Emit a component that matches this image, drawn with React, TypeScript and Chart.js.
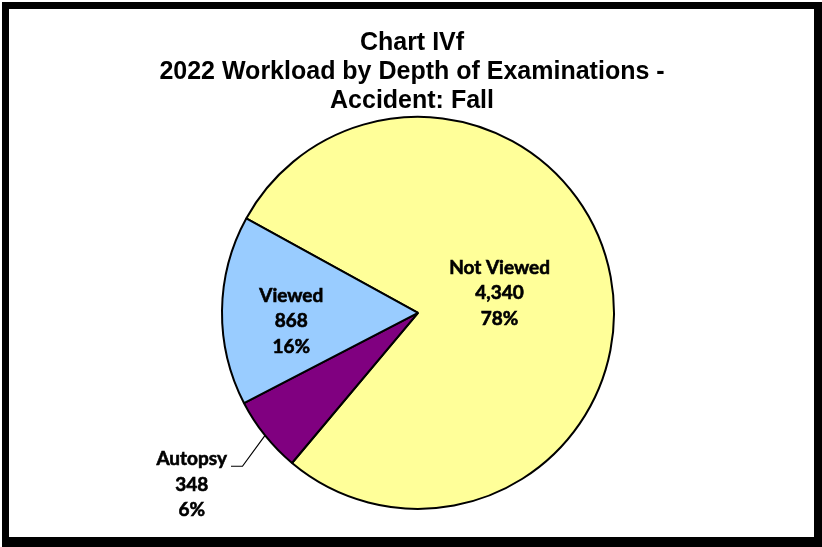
import React, { useEffect, useRef } from "react";
import { Chart, registerables } from "chart.js";

Chart.register(...registerables);

// ---- data ----
const TITLE_LINES = ["Chart IVf", "2022 Workload by Depth of Examinations -", "Accident: Fall"];
const CATEGORIES = ["Not Viewed", "Autopsy", "Viewed"];
const VALUES = [4340, 348, 868];
const COLORS = ["#FFFF99", "#800080", "#99CCFF"];

// ---- label placement (fraction of radius, angle offset from slice mid-angle in degrees) ----
const LABEL_PLACEMENT = [
  { r: 0.428, da: -2.9, leader: false },
  { r: 1.45, da: 1.5, leader: true },
  { r: 0.648, da: -4.45, leader: false },
];
const LABEL_FONT = "bold 19px Lato, 'Noto Sans', sans-serif";
const LINE_GAP = 25.5;

const framePlugin = {
  id: "frame",
  beforeDraw(chart: any) {
    const { ctx, width, height } = chart;
    ctx.save();
    ctx.fillStyle = "#000";
    ctx.fillRect(2, 2, width - 2, height - 2);
    ctx.fillStyle = "#fff";
    ctx.fillRect(9, 9, width - 17, height - 19);
    ctx.restore();
  },
};

const shiftPlugin = {
  id: "shiftArea",
  afterLayout(chart: any) {
    chart.chartArea.left += 6;
    chart.chartArea.right += 6;
  },
};

const labelPlugin = {
  id: "sliceLabels",
  afterDatasetsDraw(chart: any) {
    const { ctx } = chart;
    const meta = chart.getDatasetMeta(0);
    const total = VALUES.reduce((a, b) => a + b, 0);
    ctx.save();
    ctx.font = LABEL_FONT;
    ctx.fillStyle = "#000";
    ctx.strokeStyle = "#000";
    ctx.textAlign = "center";
    ctx.textBaseline = "middle";
    meta.data.forEach((arc: any, i: number) => {
      const { x, y, startAngle, endAngle, outerRadius } = arc.getProps(
        ["x", "y", "startAngle", "endAngle", "outerRadius"],
        true
      );
      const mid = (startAngle + endAngle) / 2;
      const p = LABEL_PLACEMENT[i];
      const a = mid + (p.da * Math.PI) / 180;
      const cx = x + Math.cos(a) * outerRadius * p.r;
      const cy = y + Math.sin(a) * outerRadius * p.r;
      const lines = [
        CATEGORIES[i],
        VALUES[i].toLocaleString("en-US"),
        Math.round((VALUES[i] / total) * 100) + "%",
      ];
      ctx.lineWidth = 0.6;
      lines.forEach((t, j) => {
        ctx.fillText(t, cx, cy + (j - 1) * LINE_GAP);
        ctx.strokeText(t, cx, cy + (j - 1) * LINE_GAP);
      });
      if (p.leader) {
        const w = ctx.measureText(lines[0]).width;
        const sx = cx + w / 2 + 4;
        const sy = cy - LINE_GAP + 7;
        const ex = x + Math.cos(mid) * outerRadius;
        const ey = y + Math.sin(mid) * outerRadius;
        ctx.beginPath();
        ctx.lineWidth = 1.2;
        ctx.moveTo(sx, sy);
        ctx.lineTo(sx + 11.5, sy);
        ctx.lineTo(ex, ey);
        ctx.stroke();
      }
    });
    ctx.restore();
  },
};

export default function App() {
  const ref = useRef<HTMLCanvasElement | null>(null);
  useEffect(() => {
    if (!ref.current) return;
    const chart = new Chart(ref.current, {
      type: "pie",
      data: {
        labels: CATEGORIES,
        datasets: [
          {
            data: VALUES,
            backgroundColor: COLORS,
            borderColor: "#000",
            borderWidth: 2,
            hoverOffset: 0,
          },
        ],
      },
      options: {
        responsive: false,
        devicePixelRatio: 1,
        animation: false,
        events: [],
        rotation: -61.2,
        radius: 196,
        layout: { padding: { left: 12, right: 10, top: 9, bottom: 37 } },
        plugins: {
          legend: { display: false },
          tooltip: { enabled: false },
          title: {
            display: true,
            text: TITLE_LINES,
            color: "#000",
            font: {
              family: "'Liberation Sans', Arial, sans-serif",
              size: 25,
              weight: "bold",
              lineHeight: 1.17,
            },
            padding: { top: 19, bottom: 0 },
          },
        },
      } as any,
      plugins: [framePlugin, shiftPlugin, labelPlugin],
    });
    return () => chart.destroy();
  }, []);
  return (
    <div style={{ position: "fixed", left: 0, top: 0, width: 822, height: 547 }}>
      <canvas ref={ref} width={822} height={547} style={{ display: "block" }} />
    </div>
  );
}
